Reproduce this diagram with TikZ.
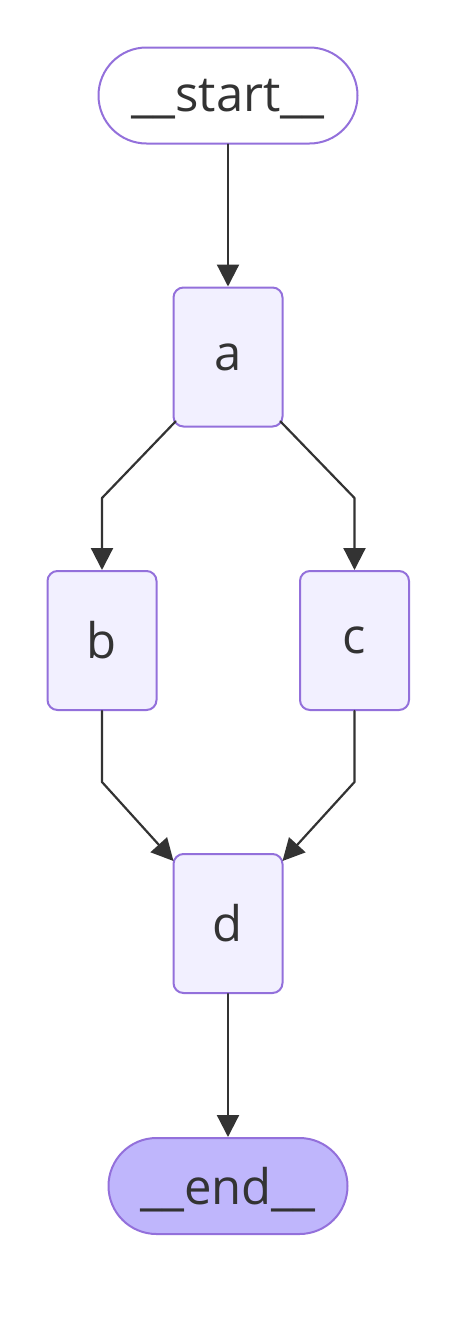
\documentclass[tikz,border=0pt]{standalone}
\usepackage{fontspec}
\setmainfont{Open Sans}
\usepackage{tikz}
\usetikzlibrary{arrows.meta}
\definecolor{nodeline}{HTML}{9370DB}
\definecolor{nodefill}{HTML}{F2F0FF}
\definecolor{lastfill}{HTML}{BFB6FC}
\definecolor{ink}{HTML}{333333}

\begin{document}
\begin{tikzpicture}[line cap=round,line join=round,x=0.5pt,y=-0.5pt,
    box/.style={draw=nodeline,fill=nodefill,line width=1pt,rounded corners=5pt,minimum width=54.5pt,minimum height=69.5pt,text=ink,font=\fontsize{24.5}{24.5}\selectfont},
    term/.style={draw=nodeline,line width=1pt,rounded corners=24pt,minimum height=48pt,text depth=0pt,text=ink,font=\fontsize{24.5}{24.5}\selectfont},
    flow/.style={draw=ink,line width=1.1pt,-{Triangle[length=11pt,width=11pt]}}]
        \useasboundingbox (0,0) rectangle (456,1323);
        \node[term,fill=white,minimum width=129.5pt] (start) at (228,95.5) {\_\_start\_\_};
        \node[box] (a) at (228,357) {a};
        \node[box] (b) at (102,640.5) {b};
        \node[box] (c) at (354.5,640.5) {c};
        \node[box] (d) at (228,923.5) {d};
        \node[term,fill=lastfill,minimum width=119.5pt] (end) at (228,1186) {\_\_end\_\_};
        \coordinate (ab) at (102,498);
        \coordinate (ac) at (354.5,498);
        \coordinate (bd) at (102,782);
        \coordinate (cd) at (354.5,782);
        \draw [flow] (start) -- (a);
        \draw [flow] ([shift={(3,-6)}]a.south west) -- (ab) -- (b);
        \draw [flow] ([shift={(-3,-6)}]a.south east) -- (ac) -- (c);
        \draw [flow] (b) -- (bd) -- ([shift={(1,8)}]d.north west);
        \draw [flow] (c) -- (cd) -- ([shift={(-1,8)}]d.north east);
        \draw [flow] (d) -- (end);
    \end{tikzpicture}
\end{document}
